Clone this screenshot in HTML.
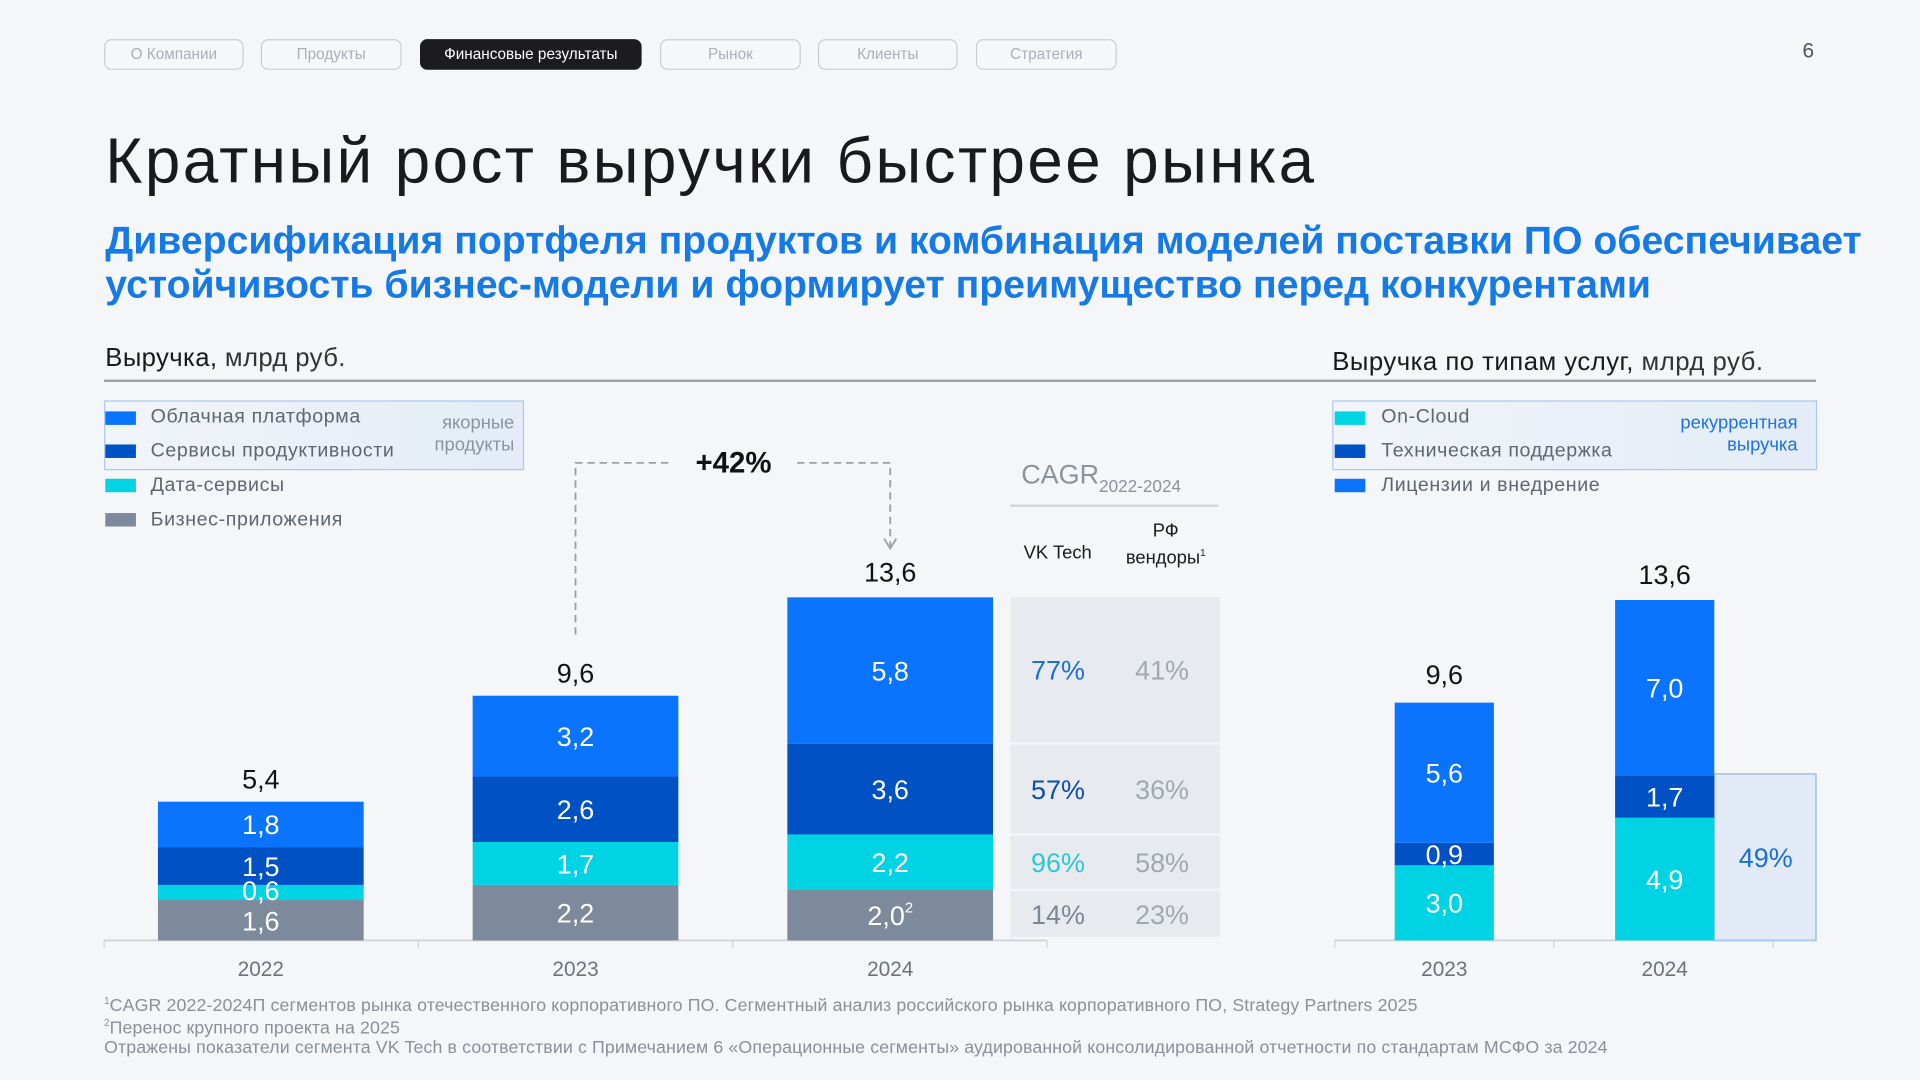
<!DOCTYPE html>
<html><head><meta charset="utf-8">
<style>
html,body{margin:0;padding:0;background:#f4f6f8;overflow:hidden;}
#stage{position:absolute;left:0;top:0;width:1568px;height:882px;transform:scale(1.22449);transform-origin:0 0;font-family:"Liberation Sans","Noto Sans CJK SC",sans-serif;background:#f4f6f8;}
.a{position:absolute;white-space:nowrap;}
.pill{position:absolute;top:32px;height:23px;border:1px solid #c9ced5;border-radius:6px;font-size:12.5px;color:#aab0b8;text-align:center;line-height:23px;background:#f6f7f9;}
.pill.on{background:#1c1c1e;color:#fff;border-color:#1c1c1e;}
.lg{position:absolute;width:25px;height:11px;}
.lt{position:absolute;font-size:16px;color:#5e6670;white-space:nowrap;letter-spacing:0.5px;}
.foot{position:absolute;left:85px;font-size:14.5px;color:#8a9099;white-space:nowrap;letter-spacing:0.1px;}
</style></head><body>
<div id="stage">
<div class="pill" style="left:85px;width:112px">О Компании</div>
<div class="pill" style="left:213px;width:113px">Продукты</div>
<div class="pill on" style="left:343px;width:179px">Финансовые результаты</div>
<div class="pill" style="left:539px;width:113px">Рынок</div>
<div class="pill" style="left:668px;width:112px">Клиенты</div>
<div class="pill" style="left:797px;width:113px">Стратегия</div>
<div class="a" style="left:1472px;top:32px;font-size:17px;color:#555">6</div>

<div class="a" style="left:86px;top:102px;font-size:52px;color:#1a1a1a;letter-spacing:2px">Кратный рост выручки быстрее рынка</div>
<div class="a" style="left:86px;top:178px;font-size:32px;line-height:36px;color:#1579e6;font-weight:bold;letter-spacing:0px;white-space:normal;width:1470px">Диверсификация портфеля продуктов и комбинация моделей поставки ПО обеспечивает устойчивость бизнес-модели и формирует преимущество перед конкурентами</div>

<div class="a" style="left:86px;top:281px;font-size:21px;color:#1a1a1a;letter-spacing:0.3px">Выручка, <span style="color:#333">млрд руб.</span></div>
<div class="a" style="left:1088px;top:284px;font-size:21px;color:#1a1a1a;letter-spacing:0.4px">Выручка по типам услуг, <span style="color:#333">млрд руб.</span></div>
<div class="a" style="left:85px;top:310px;width:1398px;height:2px;background:#9aa3ad"></div>

<!-- left legend -->
<div class="a" style="left:85px;top:327px;width:341px;height:55px;border:1px solid #a9c9ef;background:linear-gradient(90deg,rgba(230,238,248,0.2),#e3ecf7)"></div>
<div class="a" style="left:340px;top:337px;font-size:15px;color:#8b939c;text-align:right;width:80px;line-height:18px;white-space:normal">якорные продукты</div>
<div class="lg" style="left:86px;top:336px;background:#0a74ff"></div>
<div class="lt" style="left:123px;top:332px">Облачная платформа</div>
<div class="lg" style="left:86px;top:363px;background:#0052c4"></div>
<div class="lt" style="left:123px;top:360px">Сервисы продуктивности</div>
<div class="lg" style="left:86px;top:391px;background:#00d4e4"></div>
<div class="lt" style="left:123px;top:388px">Дата-сервисы</div>
<div class="lg" style="left:86px;top:419px;background:#7c8a9c"></div>
<div class="lt" style="left:123px;top:416px">Бизнес-приложения</div>

<!-- right legend -->
<div class="a" style="left:1088px;top:327px;width:394px;height:55px;border:1px solid #a9c9ef;background:linear-gradient(90deg,rgba(230,238,248,0.2),#e3ecf7)"></div>
<div class="a" style="left:1340px;top:337px;font-size:15px;color:#1a73e8;text-align:right;width:128px;line-height:18px;white-space:normal">рекуррентная выручка</div>
<div class="lg" style="left:1090px;top:336px;background:#00d4e4"></div>
<div class="lt" style="left:1128px;top:332px">On-Cloud</div>
<div class="lg" style="left:1090px;top:363px;background:#0052c4"></div>
<div class="lt" style="left:1128px;top:360px">Техническая поддержка</div>
<div class="lg" style="left:1090px;top:391px;background:#0a74ff"></div>
<div class="lt" style="left:1128px;top:388px">Лицензии и внедрение</div>

<!-- CAGR header -->
<div class="a" style="left:834px;top:375px;font-size:22px;color:#8b939c">CAGR<span style="font-size:14px;position:relative;top:7px">2022-2024</span></div>
<div class="a" style="left:825px;top:412px;width:170px;height:2px;background:#d3d7dc"></div>
<div class="a" style="left:836px;top:443px;font-size:15px;color:#1a1a1a">VK Tech</div>
<div class="a" style="left:912px;top:425px;font-size:15px;color:#1a1a1a;text-align:center;line-height:18px;width:80px;white-space:normal">РФ вендоры<sup style="font-size:8px">1</sup></div>

<svg id="chart" class="a" style="left:0;top:0" width="1568" height="882"></svg>

<div class="foot" style="top:813px"><sup style="font-size:8px">1</sup>CAGR 2022-2024П сегментов рынка отечественного корпоративного ПО. Сегментный анализ российского рынка корпоративного ПО, Strategy Partners 2025</div>
<div class="foot" style="top:831px"><sup style="font-size:8px">2</sup>Перенос крупного проекта на 2025</div>
<div class="foot" style="top:848px">Отражены показатели сегмента VK Tech в соответствии с Примечанием 6 «Операционные сегменты» аудированной консолидированной отчетности по стандартам МСФО за 2024</div>
</div>
<script>
// Left chart data
const years = ["2022","2023","2024"];
const business = [1.6,2.2,2.0];
const dataSvc = [0.6,1.7,2.2];
const productivity = [1.5,2.6,3.6];
const cloud = [1.8,3.2,5.8];
const totals = [5.4,9.6,13.6];
const labelsBusiness = ["1,6","2,2","2,0"];
const labelsData = ["0,6","1,7","2,2"];
const labelsProd = ["1,5","2,6","3,6"];
const labelsCloud = ["1,8","3,2","5,8"];
const totalLabels = ["5,4","9,6","13,6"];
const growthLabel = "+42%";
// CAGR table
const cagrVk = ["77%","57%","96%","14%"];
const cagrRf = ["41%","36%","58%","23%"];
// Right chart data
const years2 = ["2023","2024"];
const onCloud = [3.0,4.9];
const support = [0.9,1.7];
const licenses = [5.6,7.0];
const totals2 = [9.6,13.6];
const labelsOnCloud = ["3,0","4,9"];
const labelsSupport = ["0,9","1,7"];
const labelsLicenses = ["5,6","7,0"];
const totalLabels2 = ["9,6","13,6"];
const recurringShare = "49%";

const NS="http://www.w3.org/2000/svg";
const svg=document.getElementById('chart');
function mk(tag,attrs,parent){const e=document.createElementNS(NS,tag);for(const k in attrs)e.setAttribute(k,attrs[k]);(parent||svg).appendChild(e);return e;}
function txt(x,y,s,size,fill,anchor){const t=mk('text',{x:x,y:y,'font-size':size,fill:fill,'text-anchor':anchor||'middle','font-family':'Liberation Sans, sans-serif'});t.textContent=s;return t;}

const base=768;
const yL=v=>v*20.6;
const xL=i=>129+i*257;
const bwL=168;
const yR=v=>v*20.44;
const xR=i=>1139+i*180;
const bwR=81;

let ax=mk('line',{x1:85,y1:base,x2:855,y2:base,stroke:'#cfd4da','stroke-width':1.5});

[0,1,2,3].forEach(i=>{const t=mk('line',{x1:85+i*256.7,y1:base,x2:85+i*256.7,y2:base+6,stroke:'#cfd4da','stroke-width':1});});

(function(){
  const i=2;const segs=[cloud[i],productivity[i],dataSvc[i],business[i]];
  const colors=['#1a6fd6','#0b4fb0','#2cc6d4','#7d8793'];
  let top=base-yL(totals[i]);
  const bottoms=[base-yL(business[i]+dataSvc[i]+productivity[i]),base-yL(business[i]+dataSvc[i]),base-yL(business[i]),base];
  let prev=top;
  segs.forEach((s,k)=>{
    const y0=prev+(k?1:0), y1=bottoms[k]-(k<3?1:3);
    const r=mk('rect',{x:825,y:y0,width:171,height:Math.max(0,y1-y0),fill:'#e7eaee'});
    
    const cy=(y0+y1)/2+8;
    const a=txt(864,cy,cagrVk[k],22,colors[k]);
    const b=txt(949,cy,cagrRf[k],22,'#a3a8b0');
    prev=bottoms[k];
  });
})();

years.forEach((yr,i)=>{
  const segs=[[business[i],'#7c8a9c',labelsBusiness[i]],[dataSvc[i],'#00d4e4',labelsData[i]],[productivity[i],'#0052c4',labelsProd[i]],[cloud[i],'#0a74ff',labelsCloud[i]]];
  let acc=0;
  segs.forEach((s,k)=>{
    const y0=base-yL(acc+s[0]);const h=yL(s[0]);
    const r=mk('rect',{x:xL(i),y:y0,width:bwL,height:h,fill:s[1]});
    
    acc+=s[0];
  });
  acc=0;
  segs.forEach((s,k)=>{
    let cy=base-yL(acc+s[0]/2)+8;
    if(i===0&&k===0)cy=base-8;
    if(i===0&&k===1)cy=base-yL(acc+s[0]/2)+6;
    const t=txt(xL(i)+bwL/2,cy,s[2],22,'#fff');
    
    if(i===2&&k===0){const sp=mk('tspan',{'font-size':12,dy:-10});sp.textContent='2';t.appendChild(sp);}
    acc+=s[0];
  });
  const tl=txt(xL(i)+bwL/2,base-yL(totals[i])-13,totalLabels[i],22,'#111');
  
  const yl=txt(xL(i)+bwL/2,797,yr,17,'#6b737c');
  
});

(function(){
  const x1=xL(1)+bwL/2,x2=xL(2)+bwL/2,yTop=378;
  const p1=mk('path',{d:`M${x1} ${base-yL(totals[1])-52} V${yTop} H547`,fill:'none',stroke:'#9aa0a8','stroke-width':1.5,'stroke-dasharray':'6 4'});
  
  const p2=mk('path',{d:`M651 ${yTop} H${x2} V${base-yL(totals[2])-42}`,fill:'none',stroke:'#9aa0a8','stroke-width':1.5,'stroke-dasharray':'6 4'});
  
  const ar=mk('path',{d:`M${x2-5} ${base-yL(totals[2])-48} L${x2} ${base-yL(totals[2])-40} L${x2+5} ${base-yL(totals[2])-48}`,fill:'none',stroke:'#9aa0a8','stroke-width':1.5});
  
  const g=txt(599,386,growthLabel,24,'#111');g.setAttribute('font-weight','bold');
  
})();

const ax2=mk('line',{x1:1090,y1:base,x2:1448,y2:base,stroke:'#cfd4da','stroke-width':1.5});

[1090,1269,1448].forEach(x=>{const t=mk('line',{x1:x,y1:base,x2:x,y2:base+6,stroke:'#cfd4da','stroke-width':1});});
(function(){
  const i=1;const top=base-yL(onCloud[i]+support[i]);
  const r=mk('rect',{x:xR(i)+bwR,y:top,width:83,height:base-top,fill:'#e1eaf6',stroke:'#a9c9ef','stroke-width':1.5});
  
  const t=txt(xR(i)+bwR+42,(top+base)/2+8,recurringShare,22,'#1a6fd6');
  
})();
years2.forEach((yr,i)=>{
  const segs=[[onCloud[i],'#00d4e4',labelsOnCloud[i]],[support[i],'#0052c4',labelsSupport[i]],[licenses[i],'#0a74ff',labelsLicenses[i]]];
  let acc=0;
  segs.forEach((s,k)=>{
    const r=mk('rect',{x:xR(i),y:base-yR(acc+s[0]),width:bwR,height:yR(s[0]),fill:s[1]});
    
    acc+=s[0];
  });
  acc=0;
  segs.forEach((s,k)=>{
    const t=txt(xR(i)+bwR/2,base-yR(acc+s[0]/2)+8,s[2],22,'#fff');
    
    acc+=s[0];
  });
  const tl=txt(xR(i)+bwR/2,base-yR(totals2[i])-13,totalLabels2[i],22,'#111');
  
  const yl=txt(xR(i)+bwR/2,797,yr,17,'#6b737c');
  
});
</script>
</body></html>
